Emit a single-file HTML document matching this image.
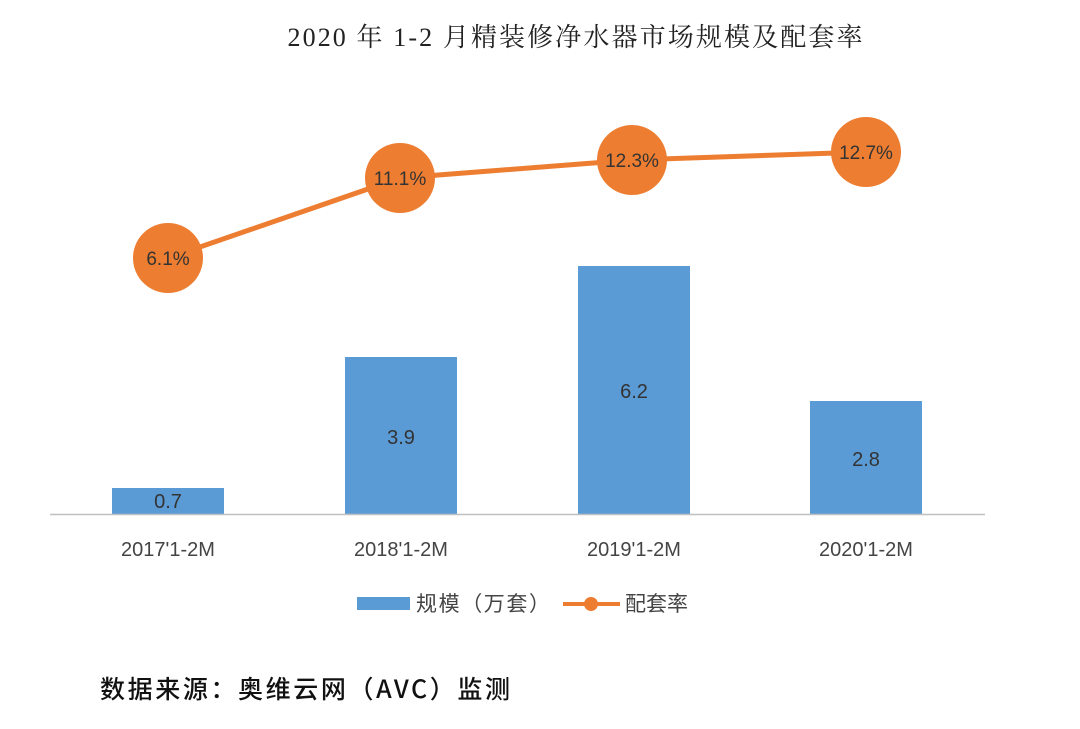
<!DOCTYPE html>
<html><head><meta charset="utf-8"><style>
body{margin:0;background:#fff;}
svg text{font-family:"Liberation Sans","Noto Sans CJK SC",sans-serif;}
</style></head><body>
<svg width="1080" height="724" viewBox="0 0 1080 724" xmlns="http://www.w3.org/2000/svg">
<rect width="1080" height="724" fill="#fff"/>
<text x="575" y="46" text-anchor="middle" font-size="26" fill="#222" textLength="575" style="font-family:'Liberation Serif','Noto Serif CJK SC',serif">2020 年 1-2 月精装修净水器市场规模及配套率</text>
<g fill="#5B9BD5">
<rect x="112" y="488" width="112" height="26"/>
<rect x="345" y="357" width="112" height="157"/>
<rect x="578" y="266" width="112" height="248"/>
<rect x="810" y="401" width="112" height="113"/>
</g>
<line x1="50" y1="514.5" x2="985" y2="514.5" stroke="#bfbfbf" stroke-width="1.5"/>
<g font-size="20" fill="#333" text-anchor="middle">
<text x="168" y="508">0.7</text>
<text x="401" y="444">3.9</text>
<text x="634" y="398">6.2</text>
<text x="866" y="466">2.8</text>
</g>
<polyline points="168,258 400,178 632,160 866,152" fill="none" stroke="#ED7D31" stroke-width="5"/>
<g fill="#ED7D31">
<circle cx="168" cy="258" r="35"/><circle cx="400" cy="178" r="35"/><circle cx="632" cy="160" r="35"/><circle cx="866" cy="152" r="35"/>
</g>
<g font-size="19" fill="#333" text-anchor="middle">
<text x="168" y="265">6.1%</text>
<text x="400" y="185">11.1%</text>
<text x="632" y="167">12.3%</text>
<text x="866" y="159">12.7%</text>
</g>
<g font-size="20" fill="#444" text-anchor="middle">
<text x="168" y="556">2017'1-2M</text>
<text x="401" y="556">2018'1-2M</text>
<text x="634" y="556">2019'1-2M</text>
<text x="866" y="556">2020'1-2M</text>
</g>
<rect x="357" y="597" width="53" height="13" fill="#5B9BD5"/>
<text x="416" y="611" font-size="21" fill="#444" textLength="134" style="font-family:'Noto Sans CJK SC',sans-serif">规模（万套）</text>
<line x1="563" y1="604" x2="620" y2="604" stroke="#ED7D31" stroke-width="4"/>
<circle cx="591" cy="604" r="7" fill="#ED7D31"/>
<text x="625" y="611" font-size="21" fill="#444" style="font-family:'Noto Sans CJK SC',sans-serif">配套率</text>
<text x="100" y="698" font-size="25" fill="#111" font-weight="500" textLength="410" style="font-family:'Noto Sans CJK SC',sans-serif">数据来源：奥维云网（AVC）监测</text>
</svg>
</body></html>
